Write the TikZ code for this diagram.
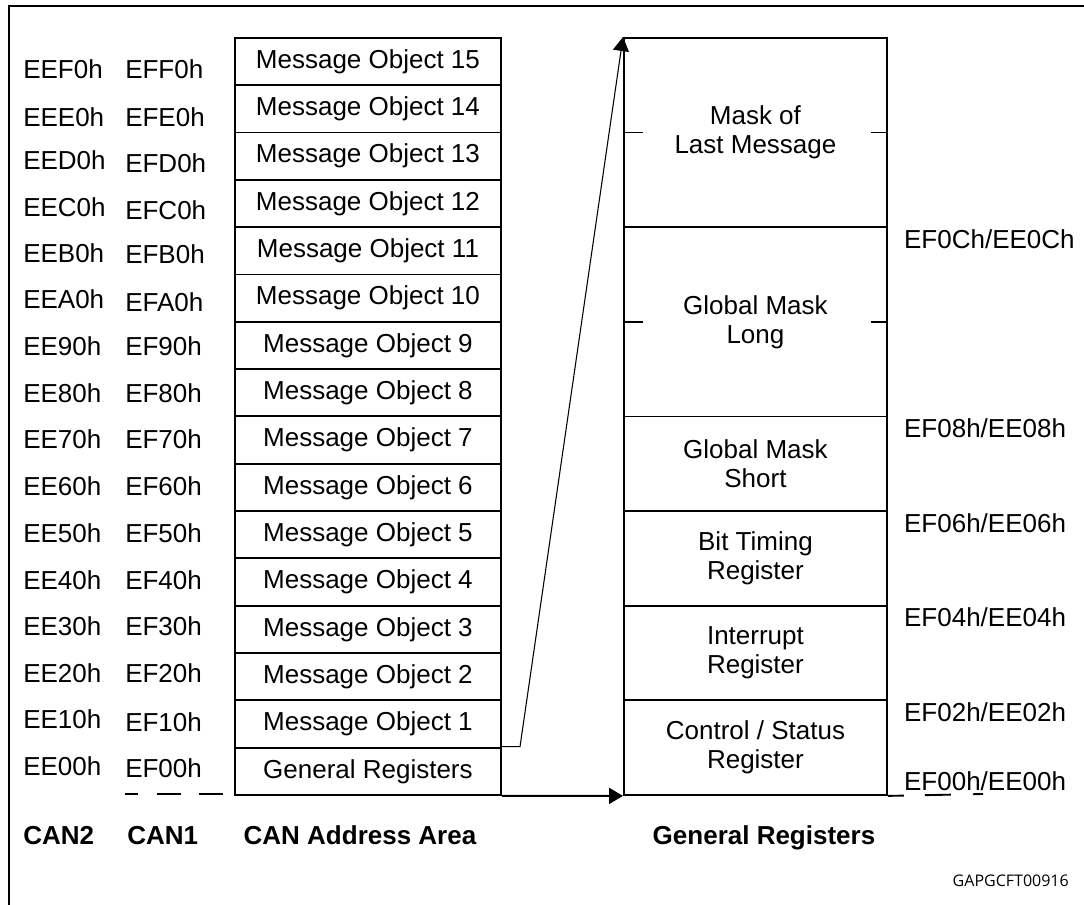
\documentclass[tikz,border=0pt]{standalone}
\usepackage{fontspec}
\setmainfont{Liberation Sans}
\newfontfamily\tagfont{Open Sans}
\usetikzlibrary{arrows.meta,positioning}

\begin{document}
\begin{tikzpicture}[x=0.75pt, y=-0.75pt,
  >={Triangle[length=10.5pt,width=12pt]},
  font=\fontsize{19.5}{21.75}\selectfont,
  cell/.style={draw, line width=1.4pt, inner sep=0pt, anchor=north west,
               minimum width=199.5pt, minimum height=35.48pt},
  reg/.style={draw, line width=1.4pt, inner sep=0pt, anchor=north west,
              minimum width=197.25pt, align=center},
  addr/.style={anchor=west, inner sep=0pt},
  offs/.style={inner sep=0pt},
  caption/.style={inner sep=0pt, font=\bfseries\fontsize{19.5}{21.75}\selectfont}]
  \useasboundingbox (0,0) rectangle (1084,905);
  % frame, cut at the page edges
  \draw[line width=2pt] (1084,6) -- (9,6) -- (9,905);

  % CAN address area
  \node[cell] (m0) at (234,746.69) {General Registers};
  \foreach \k [evaluate=\k as \yy using {746.69-47.3125*\k}] in {1,...,15}
    \node[cell] (m\k) at (234,\yy) {Message Object \k};

  % CAN2 / CAN1 base addresses
  \foreach \h/\ya/\yb in {F/69/69, E/117/117, D/160/163, C/207/210,
      B/253/254, A/299/302, 9/346/346, 8/393/393, 7/439/439, 6/486/486,
      5/533/533, 4/580/580, 3/626/626, 2/673/673, 1/719/722, 0/766/768} {
    \node[addr] (ca\h) at (23,\ya) {EE\h0h};
    \node[addr] (cb\h) at (125,\yb) {EF\h0h};
  }

  % general registers
  \node[reg, minimum height=141.95pt] (lm) at (623,37) {Mask of\\Last Message};
  \node[reg, minimum height=141.95pt] (gl) at (623,226.25) {Global Mask\\Long};
  \node[reg, minimum height=70.97pt] (gs) at (623,415.5) {Global Mask\\Short};
  \node[reg, minimum height=70.97pt] (bt) at (623,510.1) {Bit Timing\\Register};
  \node[reg, minimum height=70.97pt] (ir) at (623,604.75) {Interrupt\\Register};
  \node[reg, minimum height=70.97pt] (cs) at (623,699.4) {Control / Status\\Register};
  \foreach \n in {lm,gl} {
    \draw[line width=1.4pt] (\n.west) -- ++(20,0);
    \draw[line width=1.4pt] (\n.east) -- ++(-17,0);
  }

  % register offsets
  \node[offs, below right=2.25pt and 12pt of gl.north east] (o0c) {EF0Ch/EE0Ch};
  \node[offs, below right=2.25pt and 12pt of gs.north east] (o08) {EF08h/EE08h};
  \node[offs, below right=2.25pt and 12pt of bt.north east] (o06) {EF06h/EE06h};
  \node[offs, below right=2.25pt and 12pt of ir.north east] (o04) {EF04h/EE04h};
  \node[offs, below right=2.25pt and 12pt of cs.north east] (o02) {EF02h/EE02h};
  \node[offs, above right=3.75pt and 12pt of cs.south east] (o00) {EF00h/EE00h};

  % remains of the base line under the bottom addresses
  \draw[line width=1.4pt, dash pattern=on 9.75pt off 14.25pt on 18pt off 13.5pt on 18pt]
    (125,794) -- (223,794);
  \draw[line width=1.4pt, dash pattern=on 12pt off 15.75pt on 19.5pt off 16.5pt on 9pt]
    (cs.south east) -- (983,794);

  % connectors
  \coordinate (bend) at (520,746.69);
  \draw[line width=0.8pt, ->] (m0.north east) -- (bend) -- (lm.north west);
  \draw[line width=1.4pt, ->] (m0.south east) -- (cs.south west);

  % captions
  \node[caption, anchor=base west] (can2) at (23,844) {CAN2};
  \node[caption, anchor=base west] (can1) at (127,844) {CAN1};
  \node[caption, anchor=base] (areacap) at (360,844) {CAN Address Area};
  \node[caption, anchor=base] (regcap) at (764,844) {General Registers};
  \node[anchor=base east, inner sep=0pt, font=\tagfont\fontsize{12}{14}\selectfont] (tag)
    at (1069,886) {GAPGCFT00916};
\end{tikzpicture}
\end{document}
